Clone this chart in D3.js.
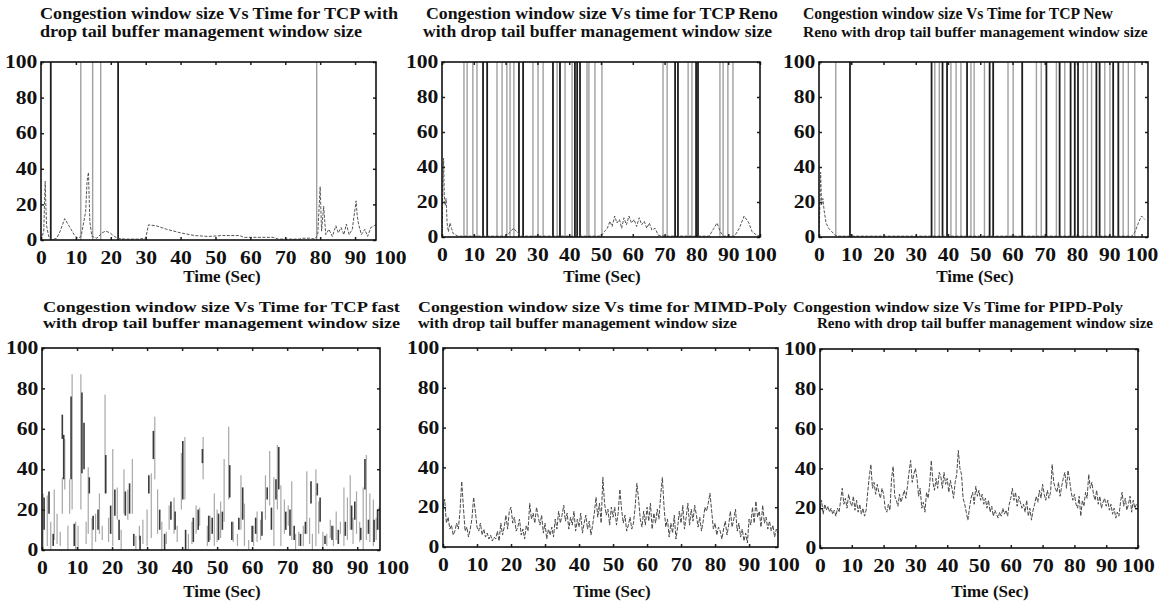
<!DOCTYPE html>
<html>
<head>
<meta charset="utf-8">
<script src="https://cdn.jsdelivr.net/npm/d3@7"></script>
<style>
  body { margin: 0; background: #fff; }
  text { font-family: "Liberation Serif", "DejaVu Serif", serif; font-weight: bold; fill: #111; }
</style>
</head>
<body>
<script>
// ---- tick labels ----
const timeTicks = [0, 10, 20, 30, 40, 50, 60, 70, 80, 90, 100];
const cwndTicks = [0, 20, 40, 60, 80, 100];

const titles = [
  ["Congestion window size Vs Time for TCP with", "drop tail buffer management window size"],
  ["Congestion window size Vs time for TCP Reno", "with drop tail buffer management window size"],
  ["Congestion window size Vs Time for TCP New", "Reno with drop tail buffer management window size"],
  ["Congestion window size Vs Time for TCP fast", "with drop tail buffer management window size"],
  ["Congestion window size Vs time for MIMD-Poly", "with drop tail buffer management window size"],
  ["Congestion window size Vs Time for PIPD-Poly", "Reno with drop tail buffer management window size"]
];
const xLabel = "Time (Sec)";

// ---- TCP (drop tail) : window bursts off the scale, and low window ----
const tcpSpikesLight = [11.4, 14.8, 17.1, 79.0];
const tcpSpikesDark = [2.8, 22.1];
const tcpWindow = [[0, 0], [0.8, 5], [1.0, 20], [1.2, 33], [1.4, 19], [1.6, 8], [2.2, 2], [3, 0],
  [4.5, 1], [5.5, 5], [6.8, 12], [8, 8], [9.5, 3], [10.5, 1], [11.5, 2], [12.8, 16], [13.2, 33],
  [13.6, 38], [14, 10], [14.6, 2], [16, 1], [17.5, 4], [18.5, 5], [19.8, 4], [21, 2], [22, 1],
  [24, 0.5], [28, 0.5], [30, 1], [30.8, 8.5], [33, 8], [36, 6], [40, 4], [44, 2.5], [48, 2],
  [52, 2.5], [57, 2.5], [58, 1.5], [66.5, 1.5], [68, 0.5], [74, 0.5], [75, 1], [77, 1], [78.5, 0.5],
  [79.3, 3], [80, 30], [80.4, 5], [81, 19], [81.6, 3], [82.5, 6], [83.5, 2], [84.5, 8], [85.2, 4],
  [86, 7], [86.8, 3], [87.5, 9], [88.3, 3], [89.2, 6], [90.3, 22], [90.6, 14], [91, 9], [91.8, 3],
  [92.8, 6], [93.6, 2], [94.5, 7], [95.5, 8], [96, 9]];

// ---- TCP Reno ----
const renoSpikesLight = [6.9, 7.9, 9.7, 11.0, 17.3, 18.9, 20.4, 21.4, 22.6, 28.6, 30.2, 31.8, 36.2,
  38.7, 40.9, 45.6, 46.2, 48.1, 50.3, 69.5, 70.8, 77.4, 78.6, 87.4, 88.4, 89.9, 91.5];
const renoSpikesDark = [12.9, 14.2, 24.2, 25.5, 34.9, 37.1, 41.8, 42.5, 43.4, 73.3, 74.2, 79.9, 80.5];
const renoWindow = [[0, 0], [0.3, 30], [0.5, 45], [0.7, 25], [1, 18], [1.3, 22], [1.6, 8], [2, 3],
  [2.5, 8], [3, 5], [3.5, 2], [5, 0.5], [20, 0.5], [21, 2], [22.5, 5], [23.5, 3], [25, 0.5],
  [50, 0.5], [51, 3], [52, 5], [52.8, 9], [53.5, 6], [54.3, 12], [55, 8], [55.8, 10], [56.5, 5],
  [57.2, 11], [58, 7], [58.8, 12], [59.6, 8], [60.4, 10], [61.2, 6], [62, 11], [62.8, 7], [63.6, 9],
  [64.4, 5], [65.2, 8], [66, 4], [67, 5], [68, 1], [70, 0.5], [84, 0.5], [85.5, 5], [86.5, 8],
  [87.5, 3], [88.5, 0.5], [92, 0.5], [93.5, 5], [95, 12], [96.5, 8], [97.5, 3], [99, 1], [100, 0.5]];

// ---- TCP New Reno ----
const newRenoSpikesLight = [5.2, 35.9, 37.3, 40.9, 42.5, 44.0, 47.1, 48.1, 51.3, 58.6, 60.2, 67.4,
  68.9, 73.6, 76.2, 81.9, 83.2, 84.5, 88.6, 90.2, 94.3, 95.9, 97.9];
const newRenoSpikesDark = [9.6, 34.9, 38.3, 39.7, 45.9, 52.9, 54.0, 63.0, 70.5, 74.6, 78.0, 79.3,
  80.3, 86.0, 87.0, 91.2, 92.8];
const newRenoWindow = [[0, 0], [0.3, 20], [0.5, 37], [0.8, 18], [1.2, 22], [1.6, 15], [2.2, 8],
  [3, 5], [4, 3], [5, 1], [6, 0.5], [97, 0.5], [98, 3], [99, 8], [100, 12], [101, 10]];

// ---- TCP fast : [time, low, high] strokes ----
const fastLight = [[0.3, 0, 28], [1.5, 2, 27], [2.5, 0, 14], [3.5, 5, 30], [4.3, 3, 18], [5.2, 2, 9],
  [5.8, 18, 36], [6.5, 30, 55], [7.4, 0, 12], [7.9, 18, 35], [8.6, 20, 87], [9.6, 0, 14], [10.3, 0, 12],
  [11.1, 20, 87], [12.6, 3, 14], [13.2, 8, 41], [14.3, 0, 16], [15.3, 4, 18], [16.4, 8, 28], [17.2, 5, 12],
  [18.0, 28, 77], [19.0, 4, 16], [20.2, 2, 50], [21.5, 15, 31], [22.6, 0, 10], [23.4, 18, 40],
  [24.5, 15, 30], [25.8, 18, 45], [26.8, 0, 7], [27.8, 5, 12], [28.8, 3, 15], [30.0, 2, 20], [31.2, 6, 38],
  [32.2, 35, 66], [33.0, 8, 30], [34.2, 0, 14], [35.5, 3, 9], [36.3, 10, 22], [37.7, 8, 26], [38.6, 4, 12],
  [39.8, 20, 48], [40.8, 25, 56], [41.8, 0, 8], [42.8, 3, 14], [44.0, 8, 22], [45.0, 12, 21], [46.0, 35, 56],
  [47.2, 2, 12], [48.0, 5, 17], [49.2, 2, 28], [50.0, 4, 20], [51.0, 6, 24], [52.0, 14, 45], [53.3, 25, 61],
  [54.6, 4, 14], [55.8, 2, 8], [56.8, 10, 37], [57.8, 2, 23], [59.0, 0, 5], [60.4, 2, 12], [61.4, 4, 19],
  [62.4, 5, 15], [63.8, 15, 37], [65.0, 22, 49], [66.2, 2, 36], [67.2, 20, 52], [68.2, 2, 32], [69.2, 8, 25],
  [70.3, 12, 22], [71.3, 5, 34], [72.4, 0, 8], [73.3, 2, 9], [74.6, 2, 12], [75.6, 8, 39], [76.4, 3, 16],
  [77.2, 0, 8], [78.2, 2, 40], [79.0, 8, 24], [80.2, 0, 9], [81.3, 2, 8], [82.3, 6, 15], [83.2, 2, 12],
  [84.0, 5, 19], [85.2, 8, 14], [86.2, 2, 31], [87.2, 5, 26], [88.0, 10, 37], [88.8, 3, 16], [89.8, 8, 29],
  [90.7, 4, 14], [91.7, 0, 31], [92.6, 5, 47], [93.6, 4, 28], [94.6, 2, 25], [95.4, 5, 16], [96.2, 10, 21]];
const fastDark = [[0.6, 10, 26], [2.0, 18, 29], [3.2, 2, 8], [5.8, 55, 67], [6.2, 35, 57], [8.3, 35, 76],
  [9.2, 2, 13], [11.4, 38, 78], [12.0, 40, 63], [13.5, 28, 36], [14.6, 10, 17], [16.0, 10, 20], [18.2, 28, 47],
  [19.6, 8, 22], [20.8, 17, 30], [22.0, 5, 15], [23.8, 17, 29], [25.0, 18, 33], [26.2, 2, 8], [28.0, 0, 7],
  [30.5, 28, 37], [31.8, 45, 59], [33.6, 10, 20], [35.0, 0, 8], [36.8, 15, 24], [38.0, 10, 19], [40.2, 25, 54],
  [41.0, 0, 10], [43.2, 4, 16], [44.6, 10, 20], [45.8, 43, 50], [47.6, 4, 17], [48.6, 8, 16], [50.4, 5, 18],
  [51.5, 10, 19], [53.6, 26, 42], [54.2, 5, 14], [56.2, 10, 16], [57.3, 15, 31], [60.0, 4, 12], [61.0, 8, 16],
  [62.8, 7, 19], [64.3, 25, 31], [65.5, 10, 21], [66.8, 25, 35], [67.6, 30, 51], [69.6, 10, 19], [70.8, 7, 20],
  [72.0, 5, 12], [73.8, 2, 8], [75.2, 8, 14], [76.8, 23, 34], [78.6, 27, 33], [79.4, 14, 26], [80.8, 3, 7],
  [82.8, 5, 12], [84.6, 3, 10], [86.6, 7, 14], [88.4, 10, 22], [89.3, 15, 24], [91.0, 5, 11], [92.2, 30, 45],
  [93.2, 8, 15], [94.8, 4, 15], [95.8, 10, 20]];

// ---- MIMD-Poly and PIPD-Poly : window sampled every 0.5 s ----
const sampleStep = 0.5;
const mimdWindow = [
  20, 24, 12, 15, 9, 11, 6, 8, 12, 9, 18, 33, 20, 8, 10, 5, 9, 14, 25, 18,
  10, 8, 12, 6, 9, 5, 7, 4, 6, 3, 5, 4, 8, 3, 12, 6, 10, 16, 9, 18,
  20, 12, 15, 8, 10, 14, 6, 9, 4, 11, 8, 22, 14, 17, 12, 20, 15, 11, 16, 7,
  12, 4, 9, 6, 10, 5, 14, 9, 18, 12, 16, 21, 13, 17, 9, 15, 11, 18, 8, 14,
  10, 17, 7, 12, 16, 9, 13, 6, 11, 17, 25, 15, 22, 12, 35, 22, 16, 19, 11, 20,
  15, 20, 11, 17, 29, 19, 12, 16, 8, 11, 15, 9, 12, 20, 32, 24, 14, 10, 18, 11,
  20, 13, 22, 9, 17, 12, 19, 14, 26, 35, 20, 10, 14, 5, 12, 7, 16, 4, 10, 18,
  12, 21, 9, 15, 22, 11, 19, 13, 21, 16, 10, 15, 8, 13, 20, 18, 22, 27, 18, 9,
  12, 6, 10, 8, 4, 9, 13, 6, 11, 18, 10, 14, 19, 8, 12, 5, 9, 3, 7, 2,
  14, 11, 20, 12, 23, 15, 18, 10, 21, 12, 15, 9, 13, 8, 11, 5, 9, 7, 12, 18];
const pipdWindow = [
  20, 24, 17, 22, 19, 21, 18, 20, 17, 19, 16, 20, 18, 24, 30, 22, 25, 20, 27, 23,
  21, 26, 19, 24, 18, 22, 17, 20, 16, 19, 28, 36, 42, 30, 33, 27, 32, 28, 25, 30,
  27, 20, 18, 22, 19, 35, 41, 26, 24, 21, 27, 23, 26, 29, 25, 31, 38, 44, 33, 37,
  40, 35, 26, 30, 20, 23, 18, 28, 25, 32, 44, 33, 29, 35, 30, 38, 36, 30, 38, 32,
  35, 28, 34, 30, 25, 33, 37, 49, 40, 37, 25, 22, 18, 14, 20, 25, 28, 22, 31, 26,
  29, 24, 27, 22, 25, 20, 24, 18, 21, 16, 19, 17, 15, 18, 16, 20, 17, 19, 16, 22,
  25, 30, 24, 28, 21, 26, 23, 20, 22, 18, 24, 16, 20, 14, 19, 22, 26, 23, 29, 25,
  32, 27, 24, 29, 25, 28, 42, 33, 30, 28, 33, 26, 31, 35, 38, 30, 39, 34, 28, 24,
  27, 22, 20, 26, 16, 24, 21, 28, 25, 37, 30, 33, 27, 24, 29, 22, 26, 20, 23, 25,
  21, 24, 19, 22, 17, 20, 15, 18, 16, 23, 28, 21, 25, 19, 22, 26, 18, 24, 20, 22];

// ---- layout of the six axes (pixels) ----
const panels = [
  { left: 41, right: 376, top: 62, bottom: 240, xEnd: 96, tx: [40, 40], ty: [19, 37], tw: [358, 322], tf: 16, lx: 222, ly: 282 },
  { left: 442, right: 760, top: 62, bottom: 237, xEnd: 100, tx: [426, 423], ty: [19, 37], tw: [352, 349], tf: 16, lx: 602, ly: 282 },
  { left: 819, right: 1148, top: 62, bottom: 237, xEnd: 102, tx: [803, 803], ty: [19, 37], tw: [310, 345], tf: 16, lx: 975, ly: 282 },
  { left: 42, right: 380, top: 348, bottom: 550, xEnd: 96.5, tx: [43, 43], ty: [312, 328], tw: [357, 357], tf: 14, lx: 222, ly: 597 },
  { left: 443, right: 778, top: 348, bottom: 547, xEnd: 98.5, tx: [418, 418], ty: [312, 328], tw: [369, 319], tf: 14, lx: 612, ly: 597 },
  { left: 820, right: 1138, top: 349, bottom: 548, xEnd: 100, tx: [793, 817], ty: [312, 328], tw: [330, 336], tf: 14, lx: 990, ly: 597 }
];

const series = [
  { light: tcpSpikesLight, dark: tcpSpikesDark, line: tcpWindow },
  { light: renoSpikesLight, dark: renoSpikesDark, line: renoWindow },
  { light: newRenoSpikesLight, dark: newRenoSpikesDark, line: newRenoWindow },
  { segLight: fastLight, segDark: fastDark },
  { sampled: mimdWindow },
  { sampled: pipdWindow }
];

const svg = d3.select("body").append("svg")
  .attr("width", 1167)
  .attr("height", 604);

panels.forEach(function (p, i) {
  const s = series[i];
  const x = d3.scaleLinear().domain([0, p.xEnd]).range([p.left, p.right]);
  const y = d3.scaleLinear().domain([0, 100]).range([p.bottom, p.top]);
  const g = svg.append("g");

  svg.append("clipPath").attr("id", "clip" + i)
    .append("rect")
    .attr("x", p.left).attr("y", p.top)
    .attr("width", p.right - p.left).attr("height", p.bottom - p.top);

  const plot = g.append("g").attr("clip-path", "url(#clip" + i + ")");

  // window bursts that leave the 0..100 range
  if (s.light) {
    plot.selectAll(".spl").data(s.light).enter().append("line")
      .attr("x1", d => x(d)).attr("x2", d => x(d))
      .attr("y1", y(0)).attr("y2", y(100))
      .attr("stroke", "#a0a0a0").attr("stroke-width", 1.4);
    plot.selectAll(".spd").data(s.dark).enter().append("line")
      .attr("x1", d => x(d)).attr("x2", d => x(d))
      .attr("y1", y(0)).attr("y2", y(100))
      .attr("stroke", "#1e1e1e").attr("stroke-width", 1.8);
  }

  if (s.line) {
    plot.append("path").datum(s.line)
      .attr("fill", "none")
      .attr("stroke", "#555")
      .attr("stroke-width", 1)
      .attr("stroke-dasharray", "3,1.5")
      .attr("d", d3.line().x(d => x(d[0])).y(d => y(d[1])));
  }

  if (s.segLight) {
    plot.selectAll(".sgl").data(s.segLight).enter().append("line")
      .attr("x1", d => x(d[0])).attr("x2", d => x(d[0]))
      .attr("y1", d => y(d[1])).attr("y2", d => y(d[2]))
      .attr("stroke", "#a8a8a8").attr("stroke-width", 1.2);
    plot.selectAll(".sgd").data(s.segDark).enter().append("line")
      .attr("x1", d => x(d[0])).attr("x2", d => x(d[0]))
      .attr("y1", d => y(d[1])).attr("y2", d => y(d[2]))
      .attr("stroke", "#3a3a3a").attr("stroke-width", 1.6);
  }

  if (s.sampled) {
    plot.append("path").datum(s.sampled)
      .attr("fill", "none")
      .attr("stroke", "#4a4a4a")
      .attr("stroke-width", 1)
      .attr("stroke-dasharray", "4,1.5")
      .attr("d", d3.line().x((d, k) => x(k * sampleStep)).y(d => y(d)));
  }

  // inner tick marks on all four sides
  const inner = timeTicks.filter(t => t <= p.xEnd);
  g.append("g").attr("transform", "translate(0," + p.bottom + ")")
    .call(d3.axisBottom(x).tickValues(inner).tickSize(-3).tickFormat(""));
  g.append("g").attr("transform", "translate(0," + p.top + ")")
    .call(d3.axisTop(x).tickValues(inner).tickSize(-3).tickFormat(""));
  g.append("g").attr("transform", "translate(" + p.left + ",0)")
    .call(d3.axisLeft(y).tickValues(cwndTicks).tickSize(-3).tickFormat(""));
  g.append("g").attr("transform", "translate(" + p.right + ",0)")
    .call(d3.axisRight(y).tickValues(cwndTicks).tickSize(-3).tickFormat(""));
  g.selectAll(".domain").remove();
  g.selectAll(".tick line").attr("stroke", "#222").attr("stroke-width", 1.5);

  // tick labels (the scanned figure has wide, heavy digits)
  const xAxis = g.append("g").attr("transform", "translate(0," + p.bottom + ")")
    .call(d3.axisBottom(x).tickValues(timeTicks).tickSize(0).tickPadding(11));
  const yAxis = g.append("g").attr("transform", "translate(" + p.left + ",0)")
    .call(d3.axisLeft(y).tickValues(cwndTicks).tickSize(0).tickPadding(3));
  [xAxis, yAxis].forEach(function (a) {
    a.select(".domain").remove();
    a.attr("font-family", null).attr("font-size", null);
    a.selectAll("text")
      .style("font-size", "18px")
      .attr("fill", "#111")
      .attr("transform", "scale(1.2,1)");
  });

  // frame
  g.append("rect")
    .attr("x", p.left).attr("y", p.top)
    .attr("width", p.right - p.left).attr("height", p.bottom - p.top)
    .attr("fill", "none").attr("stroke", "#111").attr("stroke-width", 1.6);

  // titles: shrink the font when the line is too long, stretch it when short
  titles[i].forEach(function (t, k) {
    const txt = g.append("text")
      .attr("x", p.tx[k]).attr("y", p.ty[k])
      .style("font-size", p.tf + "px")
      .text(t);
    const natural = txt.node().getComputedTextLength();
    if (natural > p.tw[k]) {
      txt.style("font-size", (p.tf * p.tw[k] / natural).toFixed(2) + "px");
    } else {
      txt.attr("textLength", p.tw[k]).attr("lengthAdjust", "spacingAndGlyphs");
    }
  });

  g.append("text")
    .attr("x", p.lx).attr("y", p.ly)
    .attr("text-anchor", "middle")
    .style("font-size", "17px")
    .text(xLabel);
});
</script>
</body>
</html>
